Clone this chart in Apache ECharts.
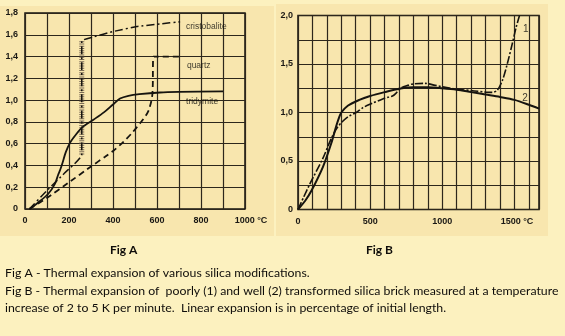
<!DOCTYPE html>
<html><head><meta charset="utf-8">
<script src="https://cdn.jsdelivr.net/npm/echarts@6/dist/echarts.min.js"></script>
<style>html,body{margin:0;padding:0;background:#fcf1bf}#c{width:565px;height:336px}</style>
</head><body><div id="c"></div>
<script>
// ---------- Fig A data (temperature °C, linear expansion %) ----------
const tridymite = [[20,0],[60,0.06],[106,0.14],[136,0.23],[150,0.31],[160,0.36],[170,0.42],[185,0.52],[205,0.61],[230,0.68],[260,0.75],[311,0.82],[360,0.89],[400,0.96],[432,1.015],[470,1.04],[520,1.055],[614,1.07],[700,1.075],[900,1.08]];
const quartz = [[20,0],[106,0.11],[200,0.245],[300,0.39],[364,0.48],[402,0.535],[439,0.6],[485,0.695],[523,0.787],[550,0.86],[563,0.91],[573,0.98],[579,1.05],[581,1.15],[583,1.4],[705,1.4]];
const cristobalite = [[20,0],[100,0.17],[180,0.33],[258,0.5],[258,1.54],[310,1.58],[401,1.63],[508,1.675],[614,1.70],[705,1.72]];
const cristobaliteInversion = [[258,0.5],[258,1.54]];
const labelsA = ['cristobalite','quartz','tridymite'];
const labelAnchorsA = [[732,1.674],[736,1.313],[732,0.985]];
const xTicksA = [0,200,400,600,800,1000];
const yTicksA = ['0','0,2','0,4','0,6','0,8','1,0','1,2','1,4','1,6','1,8'];

// ---------- Fig B data ----------
const poorly1 = [[0,0],[40,0.13],[81,0.26],[173,0.53],[230,0.73],[270,0.84],[310,0.91],[350,0.96],[403,1.0],[450,1.05],[507,1.09],[587,1.14],[630,1.16],[655,1.17],[680,1.2],[710,1.25],[760,1.28],[800,1.295],[880,1.3],[950,1.28],[1000,1.265],[1100,1.24],[1208,1.225],[1300,1.21],[1347,1.207],[1381,1.23],[1416,1.33],[1450,1.5],[1485,1.71],[1512,1.88],[1535,2.0]];
const well2 = [[0,0],[50,0.09],[92,0.19],[173,0.44],[230,0.68],[265,0.86],[285,0.95],[300,1.0],[345,1.07],[425,1.13],[500,1.17],[600,1.21],[700,1.245],[800,1.26],[900,1.26],[1000,1.25],[1100,1.235],[1200,1.21],[1300,1.185],[1400,1.16],[1500,1.13],[1600,1.08],[1670,1.04]];
const labelsB = ['1','2'];
const labelAnchorsB = [[1559,1.855],[1554,1.15]];
const xTicksB = [0,500,1000,1500];
const yTicksB = ['0','0,5','1,0','1,5','2,0'];

const ink = '#16140f';
const gridCol = '#2d271c';
const FAM = '"Liberation Sans", Arial, sans-serif';
const axisFont = {fontFamily:FAM, fontSize:9, fontWeight:'bold', color:'#1a1814'};
const capFont = '12.3px Lato, "Open Sans", sans-serif';

function near(v, list){ return list.some(t => Math.abs(t - v) < 1e-6); }

const chart = echarts.init(document.getElementById('c'), null, {renderer:'canvas'});
const option = {
  backgroundColor:'#fcf1bf',
  animation:false,
  grid:[
    {left:25, top:13, width:220, height:196, show:true, borderColor:'#16140f', borderWidth:1.5, backgroundColor:'transparent'},
    {left:298, top:15.5, width:241, height:194, show:true, borderColor:'#16140f', borderWidth:1.5, backgroundColor:'transparent'}
  ],
  xAxis:[
    {type:'value', gridIndex:0, min:0, max:1000, interval:100,
     axisLine:{show:false}, axisTick:{show:false},
     splitLine:{show:true, lineStyle:{color:gridCol, width:1.2}},
     axisLabel:Object.assign({margin:7, formatter:v => near(v, xTicksA) ? (v===1000 ? '{u|1000 °C}' : String(v)) : '',
       rich:{u:Object.assign({padding:[0,0,0,12]}, axisFont)}}, axisFont)},
    {type:'value', gridIndex:1, min:0, max:1670, interval:100,
     axisLine:{show:false}, axisTick:{show:false},
     splitLine:{show:true, lineStyle:{color:gridCol, width:1.2}},
     axisLabel:Object.assign({margin:8, formatter:v => near(v, xTicksB) ? (v===1500 ? '{u|1500 °C}' : String(v)) : '',
       rich:{u:Object.assign({padding:[0,0,0,5]}, axisFont)}}, axisFont)}
  ],
  yAxis:[
    {type:'value', gridIndex:0, min:0, max:1.8, interval:0.2,
     axisLine:{show:false}, axisTick:{show:false},
     splitLine:{show:true, lineStyle:{color:gridCol, width:1.2}},
     axisLabel:Object.assign({margin:7, formatter:v => yTicksA[Math.round(v/0.2)] || ''}, axisFont)},
    {type:'value', gridIndex:1, min:0, max:2.0, interval:0.25,
     axisLine:{show:false}, axisTick:{show:false},
     splitLine:{show:true, lineStyle:{color:gridCol, width:1.2}},
     axisLabel:Object.assign({margin:5, formatter:v => { const k = v/0.5; return Math.abs(k-Math.round(k))<1e-6 ? yTicksB[Math.round(k)] : ''; }}, axisFont)}
  ],
  series:[
    {type:'line', xAxisIndex:0, yAxisIndex:0, data:tridymite, showSymbol:false, smooth:0.3,
     lineStyle:{color:ink, width:1.8}, z:5},
    {type:'line', xAxisIndex:0, yAxisIndex:0, data:quartz, showSymbol:false, smooth:0.15,
     lineStyle:{color:ink, width:1.8, type:[6,4]}, z:5},
    {type:'line', xAxisIndex:0, yAxisIndex:0, data:cristobaliteInversion, showSymbol:false,
     lineStyle:{color:'#7d6d58', width:5, type:[1,1.2], cap:'butt'}, z:4},
    {type:'line', xAxisIndex:0, yAxisIndex:0, data:cristobalite, showSymbol:false, smooth:0.15,
     lineStyle:{color:ink, width:1.5, type:[8,3,2,3]}, z:5},
    {type:'scatter', xAxisIndex:0, yAxisIndex:0, symbolSize:0, silent:true,
     data:labelsA.map((n,i)=>({name:n, value:labelAnchorsA[i]})),
     label:{show:true, position:'right', distance:0, formatter:'{b}', fontFamily:FAM, fontSize:8.5, color:'#0d0c0a'}},
    {type:'line', xAxisIndex:1, yAxisIndex:1, data:well2, showSymbol:false, smooth:0.3,
     lineStyle:{color:ink, width:2}, z:5},
    {type:'line', xAxisIndex:1, yAxisIndex:1, data:poorly1, showSymbol:false, smooth:0.3,
     lineStyle:{color:ink, width:1.6, type:[8,2,2,2]}, z:5},
    {type:'scatter', xAxisIndex:1, yAxisIndex:1, symbolSize:0, silent:true,
     data:labelsB.map((n,i)=>({name:n, value:labelAnchorsB[i]})),
     label:{show:true, position:'right', distance:0, formatter:'{b}', fontFamily:FAM, fontSize:10, color:'#0d0c0a'}}
  ],
  graphic:[
    {type:'rect', z:-10, shape:{x:0, y:6, width:274, height:230}, style:{fill:'#f8e6ae'}},
    {type:'rect', z:-10, shape:{x:276, y:4, width:272, height:232}, style:{fill:'#f8e6ae'}},
    {type:'text', left:110, top:244, style:{text:'Fig A', font:'bold 12px Lato, "Open Sans", sans-serif', fill:'#0f0d0a'}},
    {type:'text', left:366, top:244, style:{text:'Fig B', font:'bold 12px Lato, "Open Sans", sans-serif', fill:'#0f0d0a'}},
    {type:'text', left:5, top:267, style:{text:'Fig A - Thermal expansion of various silica modifications.', font:capFont, fill:'#0f0d0a'}},
    {type:'text', left:5, top:285, style:{text:'Fig B - Thermal expansion of  poorly (1) and well (2) transformed silica brick measured at a temperature', font:capFont, fill:'#0f0d0a'}},
    {type:'text', left:5, top:302, style:{text:'increase of 2 to 5 K per minute.  Linear expansion is in percentage of initial length.', font:capFont, fill:'#0f0d0a'}}
  ]
};
chart.setOption(option);
</script></body></html>
